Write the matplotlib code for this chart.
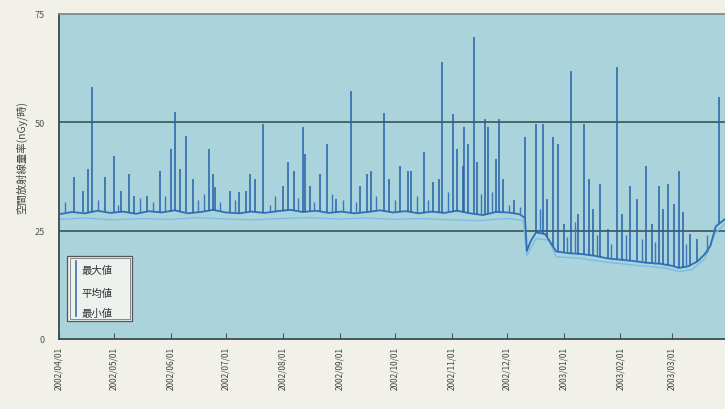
import matplotlib
matplotlib.use("Agg")
import matplotlib.pyplot as plt
import matplotlib.dates as mdates
import pandas as pd
from matplotlib.patches import Rectangle

plt.rcParams['font.family'] = ['Noto Sans CJK JP', 'DejaVu Sans']

# --- data (nGy/h) ---
tick_dates = ["2002-04-01", "2002-05-01", "2002-06-01", "2002-07-01", "2002-08-01",
              "2002-09-01", "2002-10-01", "2002-11-01", "2002-12-01", "2003-01-01",
              "2003-02-01", "2003-03-01"]
y_ticks = [0, 25, 50, 75]

# daily maximum spikes: date, level at the foot, peak
spike_dates = ["2002-04-09", "2002-04-14", "2002-04-17", "2002-04-19", "2002-04-26",
               "2002-05-01", "2002-05-05", "2002-05-09", "2002-05-12", "2002-05-19",
               "2002-05-26", "2002-06-01", "2002-06-03", "2002-06-06", "2002-06-09",
               "2002-06-13", "2002-06-22", "2002-06-24", "2002-06-25", "2002-07-03",
               "2002-07-08", "2002-07-12", "2002-07-14", "2002-07-17", "2002-07-21",
               "2002-08-01", "2002-08-04", "2002-08-07", "2002-08-12", "2002-08-13",
               "2002-08-16", "2002-08-21", "2002-08-25", "2002-08-30", "2002-09-07",
               "2002-09-12", "2002-09-16", "2002-09-18", "2002-09-25", "2002-09-28",
               "2002-10-04", "2002-10-08", "2002-10-10", "2002-10-17", "2002-10-22",
               "2002-10-25", "2002-10-27", "2002-11-02", "2002-11-04", "2002-11-07",
               "2002-11-08", "2002-11-10", "2002-11-13", "2002-11-15", "2002-11-19",
               "2002-11-21", "2002-11-25", "2002-11-27", "2002-11-29", "2002-12-05",
               "2002-12-11", "2002-12-17", "2002-12-21", "2002-12-23", "2002-12-26",
               "2002-12-29", "2003-01-01", "2003-01-05", "2003-01-09", "2003-01-12",
               "2003-01-15", "2003-01-17", "2003-01-21", "2003-01-25", "2003-01-30",
               "2003-02-02", "2003-02-06", "2003-02-10", "2003-02-15", "2003-02-18",
               "2003-02-22", "2003-02-24", "2003-02-27", "2003-03-02", "2003-03-05",
               "2003-03-07", "2003-03-11", "2003-03-15", "2003-03-27"]
spike_low = [29.2, 29.4, 29.1, 29.3, 29.5,
             29.2, 29.3, 29.3, 29.0, 29.4,
             29.2, 29.3, 29.6, 29.4, 29.2,
             29.0, 29.5, 29.8, 29.8, 29.2,
             29.0, 29.2, 29.3, 29.4, 29.1,
             29.5, 29.7, 29.8, 29.3, 29.3,
             29.5, 29.6, 29.2, 29.2, 29.1,
             29.1, 29.3, 29.4, 29.6, 29.4,
             29.4, 29.5, 29.3, 29.1, 29.4,
             29.2, 29.1, 29.3, 29.5, 29.3,
             29.2, 29.0, 29.0, 28.9, 28.7,
             28.9, 29.3, 29.3, 29.2, 29.1,
             27.9, 24.6, 24.3, 23.5, 21.5,
             20.1, 20.0, 19.8, 19.7, 19.6,
             19.5, 19.3, 19.0, 18.6, 18.4,
             18.3, 18.2, 18.0, 17.6, 17.5,
             17.4, 17.3, 17.1, 16.8, 16.4,
             16.5, 16.9, 17.9, 26.8]
spike_high = [37.4, 34.2, 39.2, 58.2, 37.4,
              42.2, 34.2, 38.1, 33.0, 33.0,
              38.8, 43.8, 52.4, 39.2, 46.8,
              36.9, 43.8, 38.1, 35.1, 34.2,
              33.9, 34.2, 38.1, 36.9, 49.6,
              35.3, 40.8, 38.8, 48.9, 42.7,
              35.3, 38.1, 45.0, 32.3, 57.2,
              35.3, 38.1, 38.8, 52.2, 36.9,
              39.9, 38.8, 38.8, 43.2, 36.2,
              36.9, 63.9, 51.9, 43.8, 39.9,
              48.9, 45.0, 69.7, 40.8, 50.8,
              48.9, 41.5, 50.8, 36.9, 32.0,
              46.6, 49.6, 49.6, 32.3, 46.6,
              45.0, 26.5, 61.9, 28.9, 49.6,
              36.9, 30.0, 35.8, 25.4, 62.8,
              28.9, 35.3, 32.3, 39.9, 26.5,
              35.3, 30.0, 35.8, 31.2, 38.8,
              29.3, 24.2, 23.1, 55.8]

# smaller bumps of the daily maximum
bump_dates = ["2002-04-04", "2002-04-22", "2002-05-03", "2002-05-15", "2002-05-22",
              "2002-05-29", "2002-06-16", "2002-06-19", "2002-06-28", "2002-07-06",
              "2002-07-25", "2002-07-28", "2002-08-09", "2002-08-18", "2002-08-28",
              "2002-09-03", "2002-09-10", "2002-09-21", "2002-10-01", "2002-10-13",
              "2002-10-19", "2002-10-30", "2002-11-17", "2002-11-23", "2002-12-02",
              "2002-12-08", "2002-12-19", "2003-01-03", "2003-01-07", "2003-01-19",
              "2003-01-27", "2003-02-04", "2003-02-13", "2003-02-20", "2003-03-09",
              "2003-03-20"]
bump_low = [29.0, 29.5, 29.2, 29.1, 29.4,
            29.3, 29.4, 29.5, 29.6, 29.1,
            29.2, 29.4, 29.6, 29.5, 29.2,
            29.3, 29.0, 29.5, 29.3, 29.1,
            29.3, 29.2, 28.7, 29.0, 29.2,
            28.8, 24.5, 19.9, 19.8, 19.1,
            18.5, 18.2, 17.8, 17.4, 16.7,
            20.0]
bump_high = [31.5, 32.0, 31.0, 32.5, 31.5,
             33.0, 32.0, 33.5, 31.5, 32.0,
             31.0, 33.0, 32.5, 31.5, 33.5,
             32.0, 31.5, 33.0, 32.0, 33.0,
             32.0, 34.0, 33.5, 34.0, 31.0,
             30.5, 30.0, 23.5, 27.0, 24.0,
             22.0, 24.0, 23.0, 22.5, 22.0,
             24.0]

# daily mean
mean_dates = ["2002-04-01", "2002-04-08", "2002-04-15", "2002-04-22", "2002-04-29",
              "2002-05-06", "2002-05-13", "2002-05-20", "2002-05-27", "2002-06-03",
              "2002-06-10", "2002-06-17", "2002-06-24", "2002-07-01", "2002-07-08",
              "2002-07-15", "2002-07-22", "2002-07-29", "2002-08-05", "2002-08-12",
              "2002-08-19", "2002-08-26", "2002-09-02", "2002-09-09", "2002-09-16",
              "2002-09-23", "2002-09-30", "2002-10-07", "2002-10-14", "2002-10-21",
              "2002-10-28", "2002-11-04", "2002-11-11", "2002-11-18", "2002-11-25",
              "2002-12-02", "2002-12-08", "2002-12-11", "2002-12-12", "2002-12-14",
              "2002-12-17", "2002-12-22", "2002-12-26", "2002-12-28", "2003-01-04",
              "2003-01-11", "2003-01-18", "2003-01-25", "2003-02-01", "2003-02-08",
              "2003-02-15", "2003-02-22", "2003-03-01", "2003-03-05", "2003-03-10",
              "2003-03-15", "2003-03-19", "2003-03-22", "2003-03-25", "2003-03-31"]
mean_vals = [28.8, 29.3, 29.0, 29.6, 29.1,
             29.4, 28.9, 29.5, 29.2, 29.7,
             29.0, 29.3, 29.8, 29.2, 29.0,
             29.4, 29.1, 29.5, 29.8, 29.3,
             29.6, 29.1, 29.4, 29.0, 29.3,
             29.7, 29.2, 29.5, 29.0, 29.4,
             29.1, 29.6, 29.0, 28.6, 29.3,
             29.2, 28.8, 27.9, 20.3, 22.5,
             24.6, 24.2, 21.5, 20.2, 19.8,
             19.6, 19.2, 18.6, 18.3, 18.0,
             17.6, 17.4, 16.9, 16.4, 16.8,
             17.9, 19.6, 21.5, 26.0, 28.0]

# daily minimum
min_dates = ["2002-04-01", "2002-04-15", "2002-05-01", "2002-05-15", "2002-06-01",
             "2002-06-15", "2002-07-01", "2002-07-15", "2002-08-01", "2002-08-15",
             "2002-09-01", "2002-09-15", "2002-10-01", "2002-10-15", "2002-11-01",
             "2002-11-15", "2002-12-01", "2002-12-10", "2002-12-12", "2002-12-17",
             "2002-12-24", "2002-12-28", "2003-01-10", "2003-01-25", "2003-02-10",
             "2003-02-25", "2003-03-05", "2003-03-12", "2003-03-19", "2003-03-25",
             "2003-03-31"]
min_vals = [27.6, 27.9, 27.5, 27.8, 27.6,
            28.0, 27.7, 27.5, 27.8, 28.0,
            27.7, 27.9, 27.6, 27.8, 27.5,
            27.3, 27.8, 27.4, 19.2, 23.2,
            22.8, 19.0, 18.6, 17.7, 17.0,
            16.4, 15.6, 16.0, 18.6, 24.5,
            27.0]

legend_labels = ["最大値", "平均値", "最小値"]

fig = plt.figure(figsize=(7.25, 4.1), dpi=100, facecolor='#f1f1e9')
ax = fig.add_axes([59 / 725, 70 / 410, 666 / 725, 325 / 410])
ax.set_facecolor('#aad3dc')

ax.plot(pd.to_datetime(min_dates), min_vals, color='#7dbde3', lw=1.0, zorder=2)
ax.plot(pd.to_datetime(mean_dates), mean_vals, color='#2f6fb5', lw=1.3, zorder=3)
ax.vlines(pd.to_datetime(bump_dates), bump_low, bump_high,
          color='#3a78bb', lw=1.0, zorder=4)
ax.vlines(pd.to_datetime(spike_dates), spike_low, spike_high,
          color='#2462a6', lw=1.1, zorder=4)

for v in y_ticks[1:3]:
    ax.axhline(v, color='#3b5458', lw=1.2, zorder=1)

ax.set_ylim(0, 75)
ax.set_xlim(pd.Timestamp("2002-04-01"), pd.Timestamp("2003-03-30"))
ax.set_yticks(y_ticks)
ax.tick_params(axis='y', length=0, labelsize=6.5, labelcolor='#555555', pad=10)
ax.set_xticks(pd.to_datetime(tick_dates))
ax.xaxis.set_major_formatter(mdates.DateFormatter('%Y/%m/%d'))
ax.tick_params(axis='x', direction='in', length=4, width=0.8, color='#555555',
               labelsize=6, labelcolor='#444444', rotation=90, pad=5)

ax.spines['right'].set_visible(False)
ax.spines['top'].set_color('#7d8c8e')
ax.spines['top'].set_linewidth(1.3)
for s in ['left', 'bottom']:
    ax.spines[s].set_color('#3a4a4c')
    ax.spines[s].set_linewidth(1.3)

fig.text(22 / 725, 1 - 158 / 410, "空間放射線量率(nGy/時)", rotation=90,
         ha='center', va='center', fontsize=7.5, color='#444444')

# legend box
ax.add_patch(Rectangle((0.012, 0.055), 0.098, 0.2, transform=ax.transAxes,
                       facecolor='#eef2ee', edgecolor='#555555', lw=0.9, zorder=6))
ax.add_patch(Rectangle((0.016, 0.062), 0.090, 0.186, transform=ax.transAxes,
                       facecolor='none', edgecolor='#777777', lw=0.6, zorder=6))
ax.plot([0.0255, 0.0255], [0.07, 0.24], transform=ax.transAxes,
        color='#3a6fb0', lw=1.2, zorder=7)
for lab, yy in zip(legend_labels, [0.212, 0.143, 0.08]):
    ax.text(0.034, yy, lab, transform=ax.transAxes, fontsize=7.5,
            color='#333333', va='center', ha='left', zorder=7)

fig.savefig("out.png", dpi=100, facecolor=fig.get_facecolor())
